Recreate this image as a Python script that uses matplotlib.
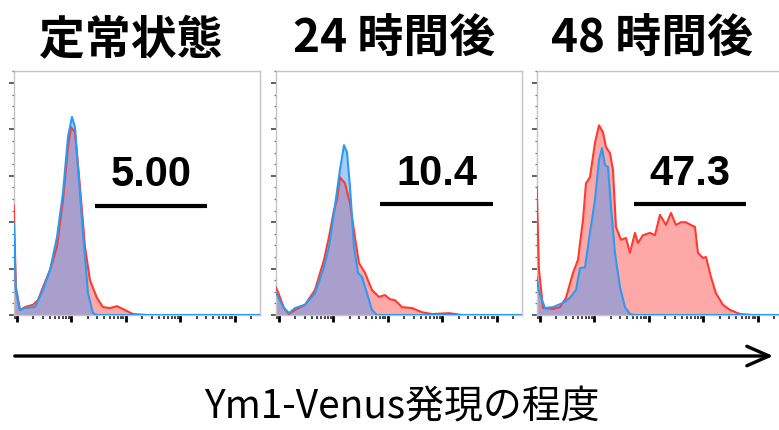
import numpy as np
import matplotlib
matplotlib.use("Agg")
import matplotlib.pyplot as plt
from matplotlib.ticker import LogLocator, MultipleLocator, NullFormatter

plt.rcParams['font.family'] = ['Noto Sans CJK JP', 'DejaVu Sans']

# panel titles and gate percentages
titles = ["定常状態", "24 時間後", "48 時間後"]
gate_labels = ["5.00", "10.4", "47.3"]
# gate bounds (log10 decades) and height (counts)
gate_lo = [1.43, 1.85, 1.72]
gate_hi = [3.49, 3.93, 3.78]
gate_y = [2.35, 2.39, 2.39]
xlabel = "Ym1-Venus発現の程度"

# histograms: x in log10 decades, y in counts (major tick = 1)
p1_red_x = [-0.06, -0.02, 0.055, 0.147, 0.294, 0.385, 0.477, 0.606, 0.734, 0.844, 0.936, 0.991,
            1.064, 1.156, 1.248, 1.339, 1.468, 1.578, 1.706, 1.835, 1.945, 2.128, 2.385, 4.47]
p1_red_y = [2.37, 0.6, 0.11, 0.17, 0.22, 0.32, 0.60, 0.97, 1.47, 2.48, 3.62, 4.05,
            3.94, 2.76, 1.47, 0.75, 0.37, 0.17, 0.15, 0.19, 0.13, 0.02, 0, 0]
p1_blue_x = [-0.06, -0.02, 0.055, 0.147, 0.33, 0.477, 0.606, 0.734, 0.844, 0.936, 1.009, 1.064,
             1.119, 1.211, 1.303, 1.394, 1.468, 4.47]
p1_blue_y = [1.98, 0.5, 0.11, 0.15, 0.17, 0.54, 0.97, 1.68, 2.63, 3.84, 4.27, 4.05,
             3.19, 1.77, 0.47, 0.04, 0, 0]

p2_red_x = [-0.06, -0.02, 0.092, 0.183, 0.294, 0.477, 0.661, 0.826, 0.917, 1.009, 1.064, 1.119,
            1.211, 1.303, 1.394, 1.468, 1.578, 1.706, 1.835, 1.945, 2.037, 2.128, 2.257, 2.440,
            2.624, 2.807, 3.119, 3.358, 4.47]
p2_red_y = [0.60, 0.5, 0.15, 0.02, 0.11, 0.22, 0.54, 1.19, 1.68, 2.26, 2.48, 2.97,
            2.84, 2.41, 1.68, 1.12, 0.91, 0.54, 0.39, 0.43, 0.34, 0.32, 0.17, 0.15,
            0.06, 0.02, 0.04, 0, 0]
p2_blue_x = [-0.06, -0.02, 0.092, 0.183, 0.294, 0.477, 0.661, 0.826, 0.917, 1.009, 1.119, 1.193,
             1.248, 1.303, 1.376, 1.450, 1.523, 1.615, 1.706, 1.798, 4.47]
p2_blue_y = [0.47, 0.4, 0.15, 0.04, 0.15, 0.22, 0.47, 1.03, 1.47, 2.20, 3.13, 3.66,
             3.51, 2.76, 1.47, 0.91, 0.82, 0.47, 0.11, 0, 0]

p3_red_x = [-0.06, -0.02, 0.055, 0.239, 0.367, 0.477, 0.606, 0.697, 0.789, 0.844, 0.917, 1.009,
            1.083, 1.156, 1.211, 1.284, 1.339, 1.394, 1.486, 1.578, 1.651, 1.743, 1.798, 1.890,
            2.018, 2.110, 2.202, 2.257, 2.312, 2.404, 2.495, 2.587, 2.679, 2.771, 2.844, 2.899,
            2.991, 3.046, 3.138, 3.229, 3.358, 3.486, 3.670, 3.908, 4.47]
p3_red_y = [2.76, 1.0, 0.15, 0.13, 0.17, 0.37, 0.91, 1.19, 2.05, 2.84, 2.97, 3.71,
            4.09, 3.94, 3.62, 3.49, 3.13, 1.90, 1.62, 1.66, 1.34, 1.77, 1.55, 1.72,
            1.77, 1.72, 2.16, 2.05, 1.94, 2.20, 1.94, 2.00, 2.00, 1.94, 1.90, 1.34,
            1.23, 1.25, 0.82, 0.47, 0.22, 0.11, 0.02, 0, 0]
p3_blue_x = [-0.06, -0.02, 0.092, 0.239, 0.422, 0.550, 0.661, 0.734, 0.826, 0.917, 1.009, 1.083,
             1.138, 1.193, 1.248, 1.303, 1.376, 1.468, 1.560, 1.651, 1.743, 4.47]
p3_blue_y = [0.82, 0.5, 0.15, 0.17, 0.26, 0.37, 0.54, 1.01, 1.03, 1.77, 2.48, 3.34,
             3.60, 3.23, 3.19, 2.33, 1.34, 0.60, 0.17, 0.02, 0, 0]

reds = [(p1_red_x, p1_red_y), (p2_red_x, p2_red_y), (p3_red_x, p3_red_y)]
blues = [(p1_blue_x, p1_blue_y), (p2_blue_x, p2_blue_y), (p3_blue_x, p3_blue_y)]

W, H = 779, 430
fig = plt.figure(figsize=(W / 100, H / 100), dpi=100)

lefts = [14, 276, 537]
title_x = [131, 394, 652]

for i in range(3):
    ax = fig.add_axes([lefts[i] / W, (H - 315) / H, 246 / W, 244 / H])
    rx = 10 ** np.array(reds[i][0])
    bx = 10 ** np.array(blues[i][0])
    ax.fill_between(rx, reds[i][1], color='#FFA8A8', lw=0, zorder=1)
    ax.fill_between(bx, blues[i][1], color='#5598F2', alpha=0.5, lw=0, zorder=2)
    ax.plot(rx, reds[i][1], color='#FF3B30', lw=1.5, zorder=3)
    ax.plot(bx, blues[i][1], color='#2B9AF3', lw=1.5, zorder=4)

    ax.set_xscale('log')
    ax.set_xlim(10 ** -0.055, 10 ** 4.46)
    ax.set_ylim(0, 5.26)
    ax.xaxis.set_major_locator(LogLocator(base=10, numticks=10))
    ax.xaxis.set_minor_locator(LogLocator(base=10, subs=np.arange(2, 10), numticks=20))
    ax.xaxis.set_major_formatter(NullFormatter())
    ax.xaxis.set_minor_formatter(NullFormatter())
    ax.yaxis.set_major_locator(MultipleLocator(1))
    ax.yaxis.set_minor_locator(MultipleLocator(0.25))
    ax.set_yticklabels([])
    ax.tick_params(axis='x', which='major', length=5, width=2.0, color='black', direction='out')
    ax.tick_params(axis='x', which='minor', length=3, width=1.2, color='#222222', direction='out')
    ax.tick_params(axis='y', which='major', length=3.8, width=1.2, color='#444444', direction='out')
    ax.tick_params(axis='y', which='minor', length=1.8, width=0.9, color='#666666', direction='out')
    for s in ax.spines.values():
        s.set_color('#C4C4C4')
        s.set_linewidth(1.0)

    # gate marker
    ax.plot([10 ** gate_lo[i], 10 ** gate_hi[i]], [gate_y[i], gate_y[i]],
            color='black', lw=3, solid_capstyle='butt', zorder=5)
    gx = 10 ** ((gate_lo[i] + gate_hi[i]) / 2)
    ax.annotate(gate_labels[i], (gx, gate_y[i]), xytext=(0, 22), textcoords='offset points',
                ha='center', va='center', fontsize=30, fontweight='bold',
                family='Liberation Sans', zorder=6)

    fig.text(title_x[i] / W, 1 - 40 / H, titles[i], ha='center', va='center',
             fontsize=33, fontweight='bold')

# axis arrow
fig.add_artist(matplotlib.patches.FancyArrowPatch(
    (12 / W, 1 - 356 / H), (776 / W, 1 - 356 / H), transform=fig.transFigure,
    arrowstyle='->,head_length=16,head_width=7', mutation_scale=1,
    lw=2.4, color='black'))

fig.text(402 / W, 1 - 408 / H, xlabel, ha='center', va='center', fontsize=28)

fig.savefig('out.png', dpi=100)
